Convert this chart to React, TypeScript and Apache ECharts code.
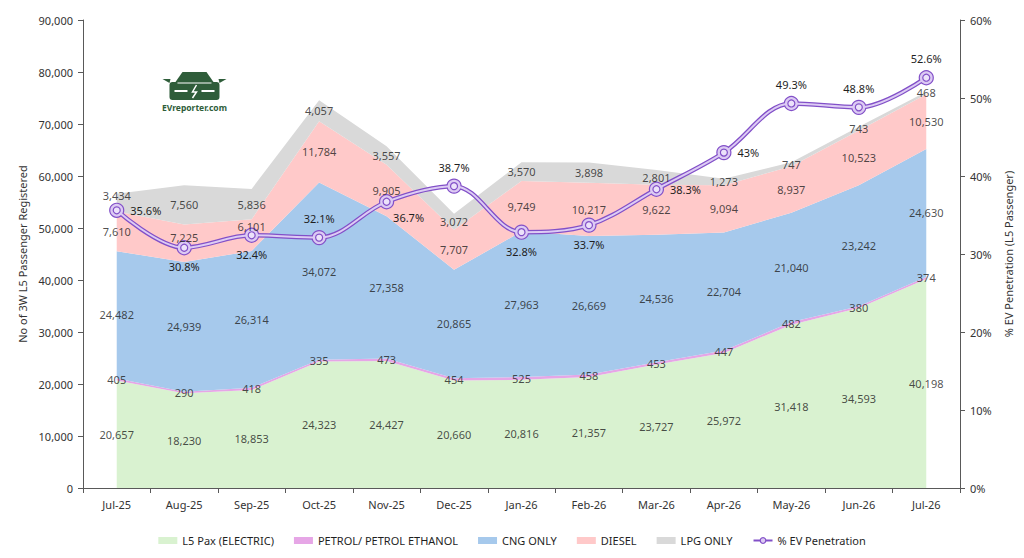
import React, { useEffect, useRef } from "react";
import * as echarts from "echarts";

const categories = ["Jul-25", "Aug-25", "Sep-25", "Oct-25", "Nov-25", "Dec-25", "Jan-26", "Feb-26", "Mar-26", "Apr-26", "May-26", "Jun-26", "Jul-26"];
const electric = [20657, 18230, 18853, 24323, 24427, 20660, 20816, 21357, 23727, 25972, 31418, 34593, 40198];
const petrol = [405, 290, 418, 335, 473, 454, 525, 458, 453, 447, 482, 380, 374];
const cng = [24482, 24939, 26314, 34072, 27358, 20865, 27963, 26669, 24536, 22704, 21040, 23242, 24630];
const diesel = [7610, 7225, 6101, 11784, 9905, 7707, 9749, 10217, 9622, 9094, 8937, 10523, 10530];
const lpg = [3434, 7560, 5836, 4057, 3557, 3072, 3570, 3898, 2801, 1273, 747, 743, 468];
const evPenetration = [35.6, 30.8, 32.4, 32.1, 36.7, 38.7, 32.8, 33.7, 38.3, 43, 49.3, 48.8, 52.6];
const evLabelPos = ["right", "bottom", "bottom", "top", "bottomRight", "top", "bottom", "bottom", "right", "right", "top", "top", "top"];
const leftTicks = [0, 10000, 20000, 30000, 40000, 50000, 60000, 70000, 80000, 90000];
const rightTicks = [0, 10, 20, 30, 40, 50, 60];

const FONT = "'Noto Sans', 'Open Sans', sans-serif";

// label nudges (pixels) for labels that sit on the penetration markers in the original
const labelNudges: Record<string, Record<number, number>> = {
  "DIESEL": { 1: -6, 2: -9 },
  "LPG ONLY": { 0: -7 },
};

const stackDefs = [
  { name: "L5 Pax (ELECTRIC)", data: electric, color: "#d9f2d0" },
  { name: "PETROL/ PETROL ETHANOL", data: petrol, color: "#e6a6e6" },
  { name: "CNG ONLY", data: cng, color: "#a6c9ec" },
  { name: "DIESEL", data: diesel, color: "#ffc9c9" },
  { name: "LPG ONLY", data: lpg, color: "#d9d9d9" },
];

function fmt(n: number) {
  return n.toLocaleString("en-US");
}

export default function App() {
  const ref = useRef<HTMLDivElement>(null);
  useEffect(() => {
    if (!ref.current) return;
    const chart = echarts.init(ref.current, undefined, { renderer: "svg" });

    const cumulative = categories.map(() => 0);
    const areaSeries: any[] = [];
    const labelSeries: any[] = [];
    stackDefs.forEach((s) => {
      areaSeries.push({
        name: s.name,
        type: "line",
        stack: "total",
        data: s.data,
        symbol: "none",
        lineStyle: { width: 0 },
        areaStyle: { color: s.color, opacity: 1 },
        itemStyle: { color: s.color },
        z: 1,
      });
      const nudges = labelNudges[s.name] || {};
      const mids = s.data.map((v, i) => {
        const item: any = { value: cumulative[i] + v / 2 };
        if (nudges[i] !== undefined) item.label = { offset: [0, nudges[i]] };
        return item;
      });
      labelSeries.push({
        name: s.name + "_labels",
        type: "scatter",
        data: mids,
        symbolSize: 1,
        itemStyle: { color: "transparent" },
        silent: true,
        label: {
          show: true,
          position: "inside",
          formatter: (p: any) => fmt(s.data[p.dataIndex]),
          color: "#1f1f1f",
          fontSize: 11,
          fontFamily: FONT,
        },
        z: 20,
      });
      s.data.forEach((v, i) => (cumulative[i] += v));
    });

    const evData = evPenetration.map((v, i) => {
      const pos = evLabelPos[i];
      const label: any = {};
      if (pos === "bottomRight") {
        label.position = "bottom";
        label.offset = [22, -3];
      } else {
        label.position = pos;
      }
      return { value: v, label };
    });

    const option: any = {
      animation: false,
      backgroundColor: "#ffffff",
      textStyle: { fontFamily: FONT },
      grid: { left: 83, right: 64, top: 20, bottom: 70, containLabel: false },
      legend: {
        bottom: 7,
        left: "center",
        itemGap: 20,
        itemWidth: 19,
        itemHeight: 7,
        textStyle: { fontSize: 11, color: "#1f1f1f", fontFamily: FONT },
        data: [
          { name: "L5 Pax (ELECTRIC)", icon: "rect" },
          { name: "PETROL/ PETROL ETHANOL", icon: "rect" },
          { name: "CNG ONLY", icon: "rect" },
          { name: "DIESEL", icon: "rect" },
          { name: "LPG ONLY", icon: "rect" },
          { name: "% EV Penetration", itemStyle: { color: "#dccaf3", borderColor: "#8250c8", borderWidth: 1.2 } },
        ],
      },
      xAxis: {
        type: "category",
        data: categories,
        boundaryGap: true,
        axisLine: { lineStyle: { color: "#595959", width: 1 } },
        axisTick: { show: true, alignWithLabel: false, length: 5, lineStyle: { color: "#595959" } },
        axisLabel: { color: "#333333", fontSize: 11, margin: 11, fontFamily: FONT },
      },
      yAxis: [
        {
          type: "value",
          min: leftTicks[0],
          max: leftTicks[leftTicks.length - 1],
          interval: leftTicks[1] - leftTicks[0],
          name: "No of 3W L5 Passenger Registered",
          nameLocation: "middle",
          nameRotate: 90,
          nameGap: 47,
          nameTextStyle: { color: "#333333", fontSize: 11, fontFamily: FONT },
          axisLine: { show: true, lineStyle: { color: "#595959" } },
          axisTick: { show: true, length: 5, lineStyle: { color: "#595959" } },
          splitLine: { show: false },
          axisLabel: { color: "#333333", fontSize: 11, margin: 10, formatter: (v: number) => fmt(v), fontFamily: FONT },
        },
        {
          type: "value",
          min: rightTicks[0],
          max: rightTicks[rightTicks.length - 1],
          interval: rightTicks[1] - rightTicks[0],
          position: "right",
          name: "% EV Penetration (L5 Passenger)",
          nameLocation: "middle",
          nameRotate: 90,
          nameGap: 38,
          nameTextStyle: { color: "#333333", fontSize: 11, fontFamily: FONT },
          axisLine: { show: true, lineStyle: { color: "#595959" } },
          axisTick: { show: true, length: 5, lineStyle: { color: "#595959" } },
          splitLine: { show: false },
          axisLabel: { color: "#333333", fontSize: 11, margin: 10, formatter: "{value}%", fontFamily: FONT },
        },
      ],
      series: [
        ...areaSeries,
        {
          name: "% EV Penetration",
          type: "line",
          yAxisIndex: 1,
          data: evData,
          smooth: 0.35,
          symbol: "circle",
          symbolSize: 14,
          lineStyle: { color: "#8250c8", width: 4.5 },
          itemStyle: { color: "#dccaf3", borderColor: "#8250c8", borderWidth: 1.2 },
          label: {
            show: true,
            formatter: (p: any) => p.value + "%",
            color: "#1f1f1f",
            fontSize: 11,
            fontFamily: FONT,
            distance: 6,
          },
          z: 10,
        },
        {
          name: "ev_inner",
          type: "line",
          yAxisIndex: 1,
          data: evPenetration,
          smooth: 0.35,
          symbol: "circle",
          symbolSize: 7,
          silent: true,
          lineStyle: { color: "#ddccf4", width: 2 },
          itemStyle: { color: "#ece2fa", borderColor: "#8250c8", borderWidth: 1.2 },
          z: 11,
        },
        ...labelSeries,
      ],
      graphic: [
        {
          type: "group",
          left: 162,
          top: 72,
          children: [
            { type: "polygon", shape: { points: [[0, 8], [8, 8], [7, 12]] }, style: { fill: "#2f5d3a" } },
            { type: "polygon", shape: { points: [[56, 8], [64, 8], [57, 12]] }, style: { fill: "#2f5d3a" } },
            { type: "polygon", shape: { points: [[13, 11], [20, 1], [44, 1], [51, 11]] }, style: { fill: "#2f5d3a" } },
            { type: "rect", shape: { x: 7, y: 11, width: 50, height: 18, r: 3 }, style: { fill: "#2f5d3a" } },
            { type: "line", shape: { x1: 15, y1: 12, x2: 49, y2: 12 }, style: { stroke: "#ffffff", lineWidth: 1 } },
            { type: "line", shape: { x1: 12, y1: 20, x2: 25, y2: 20 }, style: { stroke: "#ffffff", lineWidth: 2 } },
            { type: "line", shape: { x1: 39, y1: 20, x2: 52, y2: 20 }, style: { stroke: "#ffffff", lineWidth: 2 } },
            { type: "polyline", shape: { points: [[34, 14], [30, 21], [34, 21], [30, 27]] }, style: { stroke: "#ffffff", lineWidth: 1.5, fill: null } },
            {
              type: "text",
              x: 32,
              y: 32,
              style: { text: "EVreporter.com", fill: "#2f5d3a", font: "bold 8.5px 'Noto Sans', sans-serif", align: "center" },
            },
          ],
        },
      ],
    };
    chart.setOption(option);
    return () => chart.dispose();
  }, []);
  return (
    <div
      ref={ref}
      style={{ position: "fixed", left: 0, top: 0, width: 1024, height: 558, background: "#ffffff" }}
    />
  );
}
